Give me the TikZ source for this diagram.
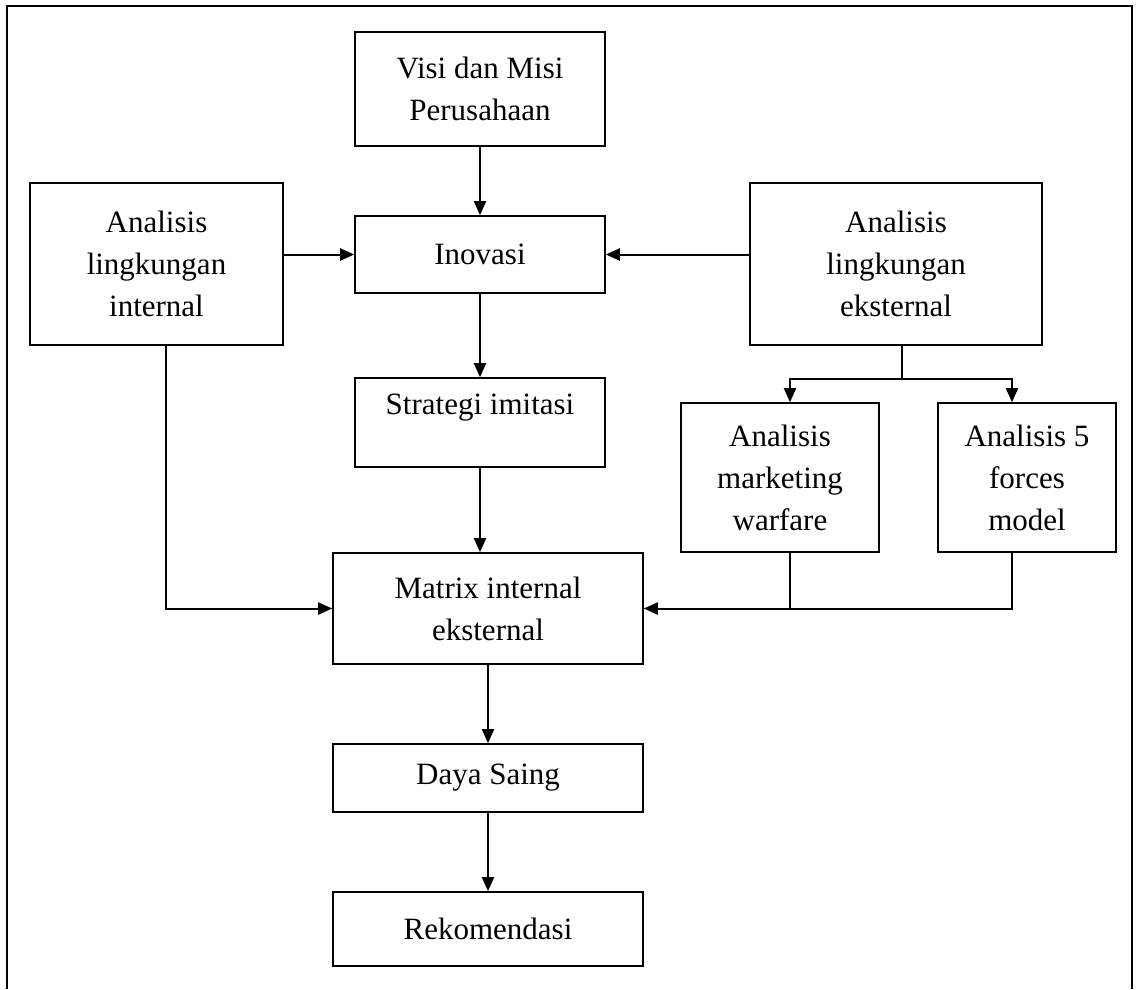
\documentclass[tikz,border=0pt]{standalone}
\usepackage{fontspec}
\setmainfont{Liberation Serif}
\usetikzlibrary{arrows.meta}

\tikzset{
  blok/.style={draw,line width=1.6pt,inner sep=0pt,align=center,
    font=\fontsize{31}{42}\selectfont},
  panah/.style={line width=2pt,-{Triangle[length=14pt,width=12pt]}},
  garis/.style={line width=1.6pt}
}

\begin{document}
\begin{tikzpicture}[x=1pt,y=-1pt]
  \useasboundingbox (0,0) rectangle (1136,989);
  % bingkai halaman
  \draw[garis] (7,989) -- (7,6) -- (1132,6) -- (1132,989);

  \node[blok,minimum width=250pt,minimum height=114pt] (visi) at (480,89) {Visi dan Misi\\Perusahaan};
  \node[blok,minimum width=250pt,minimum height=77pt] (inovasi) at (480,254.5) {Inovasi};
  \node[blok,minimum width=253pt,minimum height=162pt] (internal) at (156.5,264) {Analisis\\lingkungan\\internal};
  \node[blok,minimum width=292pt,minimum height=162pt] (eksternal) at (896,264) {Analisis\\lingkungan\\eksternal};
  \node[blok,minimum width=250pt,minimum height=89pt,text depth=36pt] (strategi) at (480,422.5) {Strategi imitasi};
  \node[blok,minimum width=198pt,minimum height=149pt] (marketing) at (780,477.5) {Analisis\\marketing\\warfare};
  \node[blok,minimum width=178pt,minimum height=149pt] (forces) at (1027,477.5) {Analisis 5\\forces\\model};
  \node[blok,minimum width=310pt,minimum height=111pt] (matrix) at (488,608.5) {Matrix internal\\eksternal};
  \node[blok,minimum width=310pt,minimum height=68pt] (daya) at (488,778) {Daya Saing};
  \node[blok,minimum width=310pt,minimum height=74pt] (rekomendasi) at (488,929) {Rekomendasi};

  % alur utama
  \draw[panah] (visi) -- (inovasi);
  \draw[panah] (internal.east |- inovasi) -- (inovasi.west);
  \draw[panah] (eksternal.west |- inovasi) -- (inovasi.east);
  \draw[panah] (inovasi) -- (strategi);
  \draw[panah] (strategi.south) -- (strategi.south |- matrix.north);
  \draw[panah] ([xshift=9pt]internal.south) |- (matrix.west);

  % cabang lingkungan eksternal
  \draw[garis] ([xshift=6pt]eksternal.south) -- ++(0,33) coordinate (cabang);
  \draw[panah] (cabang) -| ([xshift=10pt]marketing.north);
  \draw[panah] (cabang) -| ([xshift=-15pt]forces.north);
  \draw[garis] ([xshift=10pt]marketing.south) -- ([xshift=10pt]marketing.south |- matrix.east);
  \draw[panah] ([xshift=-15pt]forces.south) |- (matrix.east);

  \draw[panah] (matrix) -- (daya);
  \draw[panah] (daya) -- (rekomendasi);
\end{tikzpicture}
\end{document}
